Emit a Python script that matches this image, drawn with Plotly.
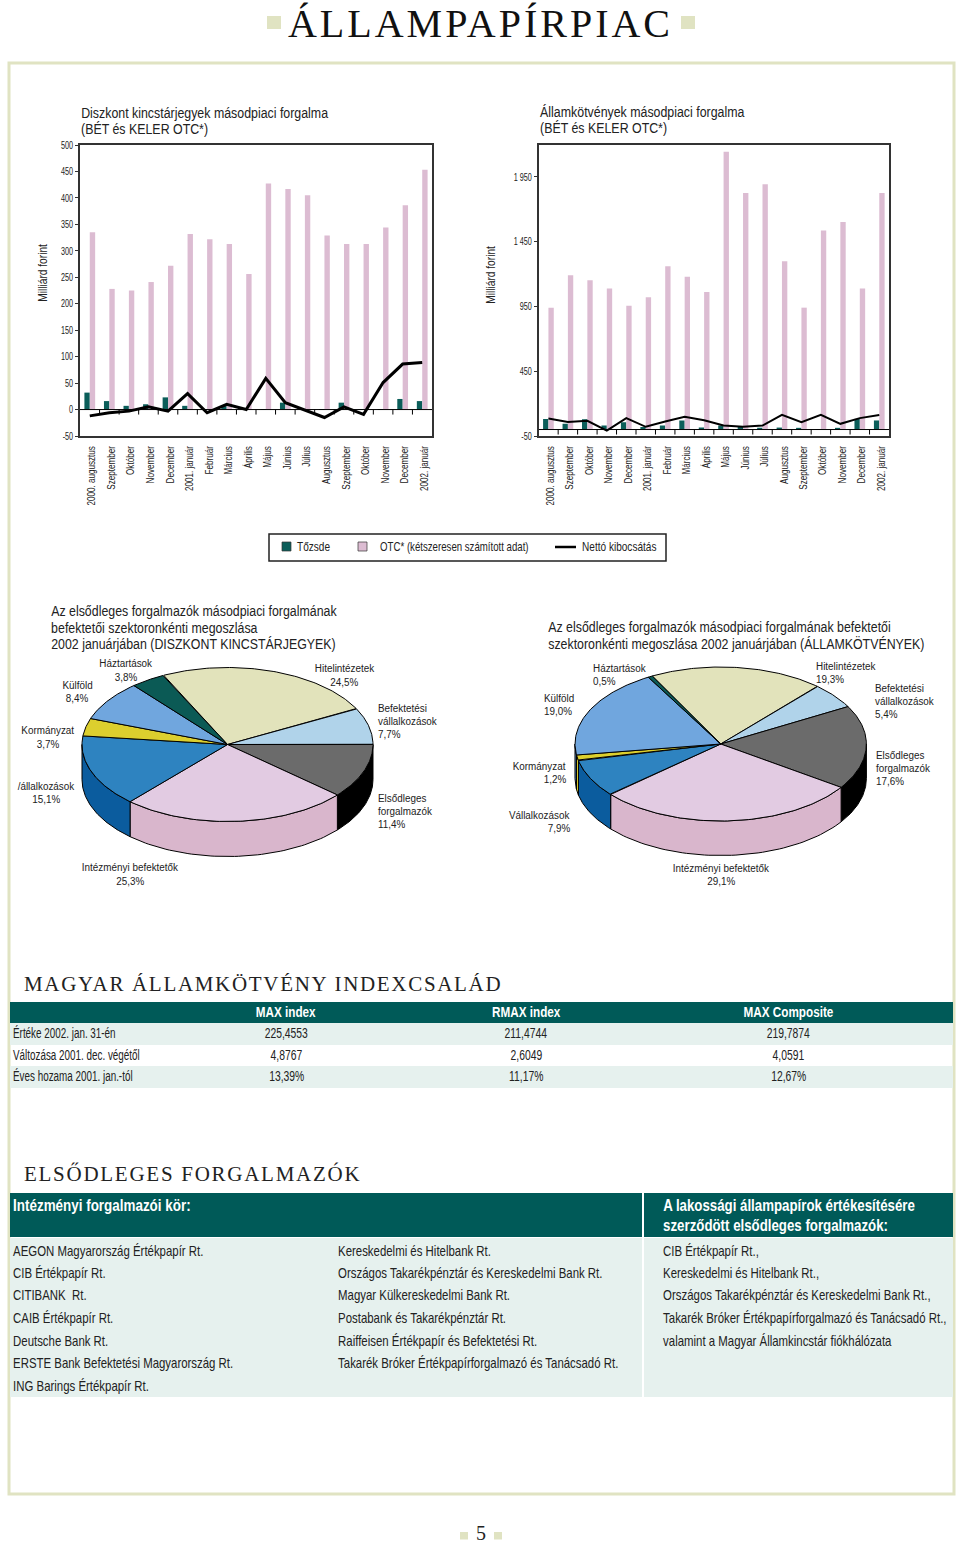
import json
import numpy as np
import plotly.graph_objects as go

W, H = 960, 1545
SANS = "Liberation Sans, Arial, sans-serif"
SERIF = "Liberation Serif, serif"

# ---------- data ----------
months = ["2000. augusztus", "Szeptember", "Október", "November", "December", "2001. január",
          "Február", "Március", "Április", "Május", "Június", "Július", "Augusztus",
          "Szeptember", "Október", "November", "December", "2002. január"]
disc_bet = [32, 16, 7, 10, 23, 7, 1, 7, 1, 1, 13, 1, 1, 13, 1, 1, 20, 16]
disc_otc = [335, 228, 225, 241, 272, 332, 322, 313, 256, 427, 417, 405, 329, 313, 313, 344, 386, 453]
disc_net = [-12, -6, -3, 5, -3, 30, -6, 10, 0, 59, 13, -1, -15, 5, -9, 51, 86, 89]
bond_bet = [82, 44, 80, 31, 57, 20, 31, 70, 15, 31, 26, 13, 15, 13, 2, 13, 82, 70]
bond_otc = [941, 1191, 1152, 1088, 956, 1021, 1260, 1180, 1062, 2144, 1827, 1894, 1299, 941, 1536, 1603, 1088, 1827]
bond_net = [85, 59, 67, -8, 88, 21, 62, 98, 72, 31, 21, 31, 113, 57, 113, 44, 88, 113]
disc_ticks = [-50, 0, 50, 100, 150, 200, 250, 300, 350, 400, 450, 500]
bond_ticks = [-50, 450, 950, 1450, 1950]
bond_ticktext = ["-50", "450", "950", "1 450", "1 950"]

pie_sectors = ["Hitelintézetek", "Befektetési vállalkozások", "Elsődleges forgalmazók", "Intézményi befektetők",
               "Vállalkozások", "Kormányzat", "Külföld", "Háztartások"]
pie_disc = [24.5, 7.7, 11.4, 25.3, 15.1, 3.7, 8.4, 3.8]
pie_bond = [19.3, 5.4, 17.6, 29.1, 7.9, 1.2, 19.0, 0.5]
pie_top = ["#e2e3bb", "#b0d3ea", "#6b6b6b", "#e2cbe2", "#2e83c0", "#dccf2e", "#70a6de", "#0b5a55"]
pie_side = ["#c9caa0", "#90b5d0", "#000000", "#d9b6cc", "#0b5c9e", "#dccf2e", "#4f86c0", "#063f3c"]

index_cols = ["MAX index", "RMAX index", "MAX Composite"]
index_rows = ["Értéke 2002. jan. 31-én", "Változása 2001. dec. végétől", "Éves hozama 2001. jan.-tól"]
index_vals = [["225,4553", "211,4744", "219,7874"],
              ["4,8767", "2,6049", "4,0591"],
              ["13,39%", "11,17%", "12,67%"]]
dealers_a = ["AEGON Magyarország Értékpapír Rt.", "CIB Értékpapír Rt.", "CITIBANK  Rt.", "CAIB Értékpapír Rt.",
             "Deutsche Bank Rt.", "ERSTE Bank Befektetési Magyarország Rt.", "ING Barings Értékpapír Rt."]
dealers_b = ["Kereskedelmi és Hitelbank Rt.", "Országos Takarékpénztár és Kereskedelmi Bank Rt.",
             "Magyar Külkereskedelmi Bank Rt.", "Postabank és Takarékpénztár Rt.",
             "Raiffeisen Értékpapír és Befektetési Rt.", "Takarék Bróker Értékpapírforgalmazó és Tanácsadó Rt."]
dealers_c = ["CIB Értékpapír Rt.,", "Kereskedelmi és Hitelbank Rt.,", "Országos Takarékpénztár és Kereskedelmi Bank Rt.,",
             "Takarék Bróker Értékpapírforgalmazó és Tanácsadó Rt.,", "valamint a Magyar Államkincstár fiókhálózata"]

# ---------- style ----------
TEAL = "#0b5e5a"
BAND = "#005a58"
PINK = "#dcbcd2"
PALE = "#e6f1ee"
SAGE = "#e0e3c2"
INK = "#222222"

fig = go.Figure()
shapes, notes, squeeze, spacing = [], [], [], []


def px(x):
    return x / W


def py(y):
    return 1 - y / H


def rect(x0, y0, x1, y1, fill=None, line=None, lw=0):
    shapes.append(dict(type="rect", xref="paper", yref="paper", x0=px(x0), x1=px(x1), y0=py(y0), y1=py(y1),
                       fillcolor=fill if fill else "rgba(0,0,0,0)",
                       line=dict(color=line if line else "rgba(0,0,0,0)", width=lw), layer="below"))


def text(x, y, s, size=12, anchor="left", color=INK, font=SANS, weight="normal", k=1.0, ls=0, angle=0):
    notes.append(dict(xref="paper", yref="paper", x=px(x), y=py(y), text=s, showarrow=False, xanchor=anchor,
                      yanchor="middle", borderpad=0, borderwidth=0, textangle=angle,
                      font=dict(family=font, size=size, color=color, weight=weight)))
    squeeze.append(k)
    spacing.append(ls)


def lines(x, ys, strs, size=12, anchor="left", k=1.0):
    for yy, s in zip(ys, strs):
        text(x, yy, s, size, anchor, k=k)


# ---------- bar charts ----------
def bar_chart(n, x0, x1, bet, otc, net, yr, tickv, tickt, lw):
    xa, ya = f"x{n}", f"y{n}"
    xs = list(range(len(months)))
    fig.add_trace(go.Bar(x=xs, y=bet, marker=dict(color=TEAL, line_width=0), name="Tőzsde", xaxis=xa, yaxis=ya))
    fig.add_trace(go.Bar(x=xs, y=otc, marker=dict(color=PINK, line_width=0), name="OTC*", xaxis=xa, yaxis=ya))
    fig.add_trace(go.Scatter(x=xs, y=net, mode="lines", line=dict(color="#000000", width=lw), name="Nettó kibocsátás",
                             xaxis=xa, yaxis=ya))
    top, bot = 145, 436
    shapes.append(dict(type="line", xref=xa, yref=ya, x0=-0.5, x1=17.5, y0=0, y1=0,
                       line=dict(color="#000000", width=1)))
    for b in xs[1:]:
        shapes.append(dict(type="line", xref=xa, yref=ya, ysizemode="pixel", yanchor=0, x0=b - 0.5, x1=b - 0.5,
                           y0=0, y1=-5, line=dict(color="#000000", width=1)))
    fig.update_layout(**{
        f"xaxis{n}": dict(domain=[px(x0), px(x1)], range=[-0.5, 17.5], anchor=ya, tickmode="array", tickvals=xs,
                          ticktext=months, tickangle=-90, ticks="", showgrid=False, zeroline=False,
                          showline=True, mirror=True, linecolor="#333333", linewidth=1.5,
                          tickfont=dict(family=SANS, size=11, color=INK), ticklabelstandoff=4, ticklabelshift=2),
        f"yaxis{n}": dict(domain=[py(bot), py(top)], range=yr, anchor=xa, tickmode="array", tickvals=tickv,
                          ticktext=tickt, ticks="outside", ticklen=3, tickcolor="#333333", showgrid=False,
                          zeroline=False, showline=True, mirror=True, linecolor="#333333", linewidth=1.5,
                          tickfont=dict(family=SANS, size=10.5, color=INK)),
    })


bar_chart(1, 80, 432, disc_bet, disc_otc, disc_net, [-50, 500], disc_ticks, [str(v) for v in disc_ticks], 3)
bar_chart(3, 538.7, 889, bond_bet, bond_otc, bond_net, [-50, 2197], bond_ticks, bond_ticktext, 2)

TK = 0.885
lines(81, [113, 129], ["Diszkont kincstárjegyek másodpiaci forgalma", "(BÉT és KELER OTC*)"], 14, k=TK)
lines(540, [112, 128], ["Államkötvények másodpiaci forgalma", "(BÉT és KELER OTC*)"], 14, k=TK)
text(43, 273, "Milliárd forint", 12, "center", k=0.85, angle=-90)
text(491, 275, "Milliárd forint", 12, "center", k=0.85, angle=-90)

# legend
rect(269, 534, 666, 561, fill="#ffffff", line="#222222", lw=1.5)
rect(282, 542, 291, 551, fill=TEAL, line="#333333", lw=0.7)
rect(358, 542, 367, 551, fill=PINK, line="#333333", lw=0.7)
shapes.append(dict(type="line", xref="paper", yref="paper", x0=px(555), x1=px(576), y0=py(547), y1=py(547),
                   line=dict(color="#000000", width=2.5)))
text(297, 547, "Tőzsde", 12, k=0.84)
text(380, 547, "OTC* (kétszeresen számított adat)", 12, k=0.805)
text(582, 547, "Nettó kibocsátás", 12, k=0.84)


# ---------- 3-D style pies, computed from the shares ----------
def pie(n, shares, start, cx, cy, rx, ry, depth):
    pad = 1.05
    xa, ya = f"x{n}", f"y{n}"
    d = depth / ry
    fig.update_layout(**{
        f"xaxis{n}": dict(domain=[px(cx - pad * rx), px(cx + pad * rx)], range=[-pad, pad], visible=False, anchor=ya),
        f"yaxis{n}": dict(domain=[py(cy + ry * (pad + d)), py(cy - ry * pad)], range=[-pad - d, pad], visible=False,
                          anchor=xa),
    })
    edges = start - np.cumsum([0] + list(shares)) * 3.6
    for i in range(len(shares)):
        a0, a1 = edges[i], edges[i + 1]
        for base in (-360, 0):
            lo, hi = max(a1, base - 180), min(a0, base)
            if hi > lo:
                t = np.radians(np.linspace(hi, lo, 60))
                xs, ys = np.cos(t), np.sin(t)
                fig.add_trace(go.Scatter(x=np.r_[xs, xs[::-1], xs[0]], y=np.r_[ys, ys[::-1] - d, ys[0]], mode="lines",
                                         fill="toself", fillcolor=pie_side[i], line=dict(color="#000000", width=1),
                                         hoverinfo="skip", showlegend=False, xaxis=xa, yaxis=ya))
    for i in range(len(shares)):
        t = np.radians(np.linspace(edges[i], edges[i + 1], 90))
        fig.add_trace(go.Scatter(x=np.r_[0, np.cos(t), 0], y=np.r_[0, np.sin(t), 0], mode="lines", fill="toself",
                                 fillcolor=pie_top[i], line=dict(color="#000000", width=1), name=pie_sectors[i],
                                 hoverinfo="name", showlegend=False, xaxis=xa, yaxis=ya))


pie(5, pie_disc, 116, 227.5, 744.5, 145.5, 77, 35)
pie(6, pie_bond, 118, 720.7, 744, 145.7, 77, 34.5)

lines(51, [611, 627.5, 644], ["Az elsődleges forgalmazók másodpiaci forgalmának",
                              "befektetői szektoronkénti megoszlása",
                              "2002 januárjában (DISZKONT KINCSTÁRJEGYEK)"], 14, k=TK)
lines(548, [627, 644], ["Az elsődleges forgalmazók másodpiaci forgalmának befektetői",
                        "szektoronkénti megoszlása 2002 januárjában (ÁLLAMKÖTVÉNYEK)"], 14, k=TK)

S, PK = 11.5, 0.86
lines(126, [663, 677], ["Háztartások", "3,8%"], S, "center", PK)
lines(77, [685, 698], ["Külföld", "8,4%"], S, "center", PK)
lines(48, [730, 743.5], ["Kormányzat", "3,7%"], S, "center", PK)
lines(46, [786, 799], ["/állalkozások", "15,1%"], S, "center", PK)
lines(344, [668, 682], ["Hitelintézetek", "24,5%"], S, "center", PK)
lines(378, [708, 721, 734], ["Befektetési", "vállalkozások", "7,7%"], S, k=PK)
lines(378, [798, 811, 824], ["Elsődleges", "forgalmazók", "11,4%"], S, k=PK)
lines(130, [867, 881], ["Intézményi befektetők", "25,3%"], S, "center", PK)

lines(593, [668, 681], ["Háztartások", "0,5%"], S, k=PK)
lines(544, [698, 711], ["Külföld", "19,0%"], S, k=PK)
lines(566, [766, 779.5], ["Kormányzat", "1,2%"], S, "right", PK)
lines(570, [815, 828], ["Vállalkozások", "7,9%"], S, "right", PK)
lines(816, [666, 679], ["Hitelintézetek", "19,3%"], S, k=PK)
lines(875, [688, 701, 714], ["Befektetési", "vállalkozások", "5,4%"], S, k=PK)
lines(876, [755, 768, 781], ["Elsődleges", "forgalmazók", "17,6%"], S, k=PK)
lines(721, [868, 881], ["Intézményi befektetők", "29,1%"], S, "center", PK)

# ---------- page furniture ----------
rect(9, 63, 954, 1494, line=SAGE, lw=3)
rect(267, 16, 281, 29, fill=SAGE)
rect(681, 16, 695, 29, fill=SAGE)
rect(460, 1532, 468, 1539.5, fill=SAGE)
rect(494, 1532, 502, 1539.5, fill=SAGE)

# page number on a hidden page-wide axis
fig.add_trace(go.Scatter(x=[481], y=[1535], mode="text", text=["5"], textposition="middle center",
                         textfont=dict(family=SERIF, size=20, color="#222222"), hoverinfo="skip", showlegend=False,
                         xaxis="x7", yaxis="y7", cliponaxis=False))
fig.update_layout(xaxis7=dict(domain=[0, 1], range=[0, W], visible=False, anchor="y7"),
                  yaxis7=dict(domain=[0, 1], range=[H, 0], visible=False, anchor="x7"))

text(24, 984, "MAGYAR ÁLLAMKÖTVÉNY INDEXCSALÁD", 21, "left", "#222222", SERIF, ls=1.68)
text(24, 1174, "ELSŐDLEGES FORGALMAZÓK", 21, "left", "#222222", SERIF, ls=1.73)

# index table
rect(10, 1002, 953, 1023, fill=BAND)
rect(10, 1023, 953, 1045, fill=PALE)
rect(10, 1066, 953, 1088, fill=PALE)
col_x = [286, 526, 788]
for cx_, c in zip(col_x, index_cols):
    text(cx_, 1011.5, c, 15.5, "center", "#ffffff", weight="bold", k=0.756)
for yy, label, row in zip([1033, 1054.5, 1076], index_rows, index_vals):
    text(13, yy, label, 14, k=0.705)
    for cx_, v in zip(col_x, row):
        text(cx_, yy, v, 14, "center", k=0.74)

# dealers table
rect(10, 1193, 642, 1237, fill=BAND)
rect(644, 1193, 953, 1237, fill=BAND)
rect(10, 1238, 642, 1397, fill=PALE)
rect(644, 1238, 953, 1397, fill=PALE)
text(13, 1205, "Intézményi forgalmazói kör:", 16, "left", "#ffffff", weight="bold", k=0.84)
text(663, 1205, "A lakossági állampapírok értékesítésére", 16, "left", "#ffffff", weight="bold", k=0.83)
text(663, 1225, "szerződött elsődleges forgalmazók:", 16, "left", "#ffffff", weight="bold", k=0.83)
row_y = [1250.5, 1273, 1295, 1318, 1340.5, 1363, 1386]
for xx, col in [(13, dealers_a), (338, dealers_b), (663, dealers_c)]:
    for yy, s in zip(row_y, col):
        text(xx, yy, s, 14, k=0.816)

fig.update_layout(width=W, height=H, autosize=False, margin=dict(l=0, r=0, t=0, b=0, pad=0, autoexpand=False),
                  title=dict(text="ÁLLAMPAPÍRPIAC", x=480.5 / W, xanchor="center", xref="paper", y=py(23),
                             yref="paper", yanchor="middle", font=dict(family=SERIF, size=40, color="#111111"),
                             automargin=False),
                  paper_bgcolor="#ffffff", plot_bgcolor="rgba(0,0,0,0)", showlegend=False,
                  barmode="group", bargap=0.45, bargroupgap=0, shapes=shapes, annotations=notes)

post = """
document.body.style.margin='0';document.documentElement.style.overflow='hidden';
var SQ=%s,LS=%s,AN=%s;
function narrow(t,k){t.setAttribute('textLength',t.getComputedTextLength()*k);t.setAttribute('lengthAdjust','spacingAndGlyphs');}
document.querySelectorAll('.annotation').forEach(function(g){
  var i=+g.getAttribute('data-index'),t=g.querySelector('.annotation-text');if(!t)return;
  var b=t.getBBox();
  if(LS[i]){t.setAttribute('x',b.x);t.setAttribute('text-anchor','start');t.style.textAnchor='start';t.style.letterSpacing=LS[i]+'px';}
  if(SQ[i]!==1){var p=AN[i]==='left'?b.x:(AN[i]==='right'?b.x+b.width:b.x+b.width/2);
    t.setAttribute('transform','translate('+p+' 0) scale('+SQ[i]+' 1) translate('+(-p)+' 0)');}
});
document.querySelectorAll('[class*="tick"] text').forEach(function(t){
  if(!t.textContent)return;
  var yt=t.parentNode.getAttribute('class').indexOf('y')===0;
  narrow(t,yt?0.69:0.735);
});
var g=document.querySelector('.gtitle');if(g)g.style.letterSpacing='3px';
""" % (json.dumps(squeeze), json.dumps(spacing), json.dumps([n["xanchor"] for n in notes]))
fig.write_html("out.html", post_script=post, config=dict(displayModeBar=False))
